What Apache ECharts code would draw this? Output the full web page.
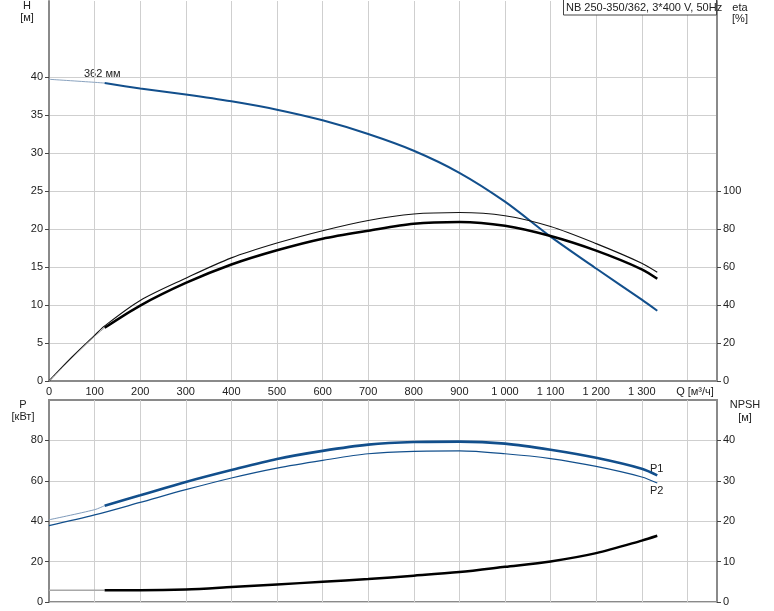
<!DOCTYPE html>
<html><head><meta charset="utf-8">
<script src="https://cdn.jsdelivr.net/npm/echarts@6/dist/echarts.min.js"></script>
<style>html,body{margin:0;padding:0;background:#fff}#c{width:774px;height:611px}</style>
</head><body><div id="c"></div>
<script>
// ---- data ----
const xTicks = [0,100,200,300,400,500,600,700,800,900,1000,1100,1200,1300];
const hTicks = [0,5,10,15,20,25,30,35,40];
const etaTicks = [0,20,40,60,80,100];
const pTicks = [0,20,40,60,80];
const npshTicks = [0,10,20,30,40];

// H curve (m)
const hQstart = [0,100,122];
const hStart  = [39.7,39.3,39.2];
const hQ  = [122,200,300,400,500,600,700,800,900,1000,1100,1200,1300,1334];
const hVal= [39.2,38.5,37.7,36.8,35.7,34.3,32.5,30.3,27.4,23.6,19.0,14.8,10.7,9.24];

// eta thin (%) full range
const eta1Q = [0,50,100,122,200,300,400,500,600,700,800,900,1000,1100,1200,1300,1334];
const eta1  = [0,12.5,24,29,42.4,54.1,64.8,72.6,79.1,84.5,87.9,88.7,87.0,81.3,72.3,62.0,57.2];
// eta thick (%)
const eta2Qstart = [0,50,100,122];
const eta2Start  = [0,12,23.5,28];
const eta2Q = [122,200,300,400,500,600,700,800,900,1000,1100,1200,1300,1334];
const eta2  = [28.0,39.7,51.6,61.3,68.8,74.9,79.1,82.8,83.7,81.7,76.3,68.6,58.8,53.8];

// P1 (kW)
const p1Qstart = [0,100,122];
const p1Start  = [40.7,45.7,47.7];
const p1Q = [122,200,300,400,500,600,700,800,900,1000,1100,1200,1300,1334];
const p1  = [47.7,52.8,59.4,65.3,70.8,74.8,77.9,79.2,79.4,78.4,75.4,71.4,66.0,62.7];
// P2 (kW)
const p2Q = [0,100,200,300,400,500,600,700,800,900,1000,1100,1200,1300,1334];
const p2  = [37.8,43.1,49.3,55.6,61.4,66.3,70.1,73.4,74.6,74.8,73.4,71.0,67.1,61.9,58.9];

// NPSH (m)
const nQstart = [0,122];
const nStart  = [2.9,2.9];
const nQ = [122,200,300,400,500,600,700,800,900,1000,1100,1200,1300,1334];
const nV = [2.9,2.9,3.1,3.7,4.35,5.0,5.7,6.5,7.4,8.7,10.05,12.1,15.2,16.4];

// ---- chart ----
const zip = (a,b) => a.map((q,i)=>[q,b[i]]);
const FONT = 'Liberation Sans';
const TXT = '#222';
const BLUE = '#124f8c';
const GRIDC = '#cfcfcf';
const AXC = '#8a8a8a';

function fmtQ(v){ return v>=1000 ? Math.floor(v/1000)+' '+String(v%1000).padStart(3,'0') : String(v); }

const chart = echarts.init(document.getElementById('c'), null, {renderer:'canvas'});

function xAx(gi, showLabel){
  return {type:'value', gridIndex:gi, min:0, max:1465, interval:100,
    axisLine:{show:gi===0, onZero:false, lineStyle:{color:AXC,width:2}},
    axisTick:{show:false},
    axisLabel:{show:showLabel, customValues:xTicks, formatter:fmtQ, color:TXT, fontFamily:FONT, fontSize:11, margin:5},
    splitLine:{show:true, lineStyle:{color:GRIDC,width:1}}};
}
function yAx(gi, pos, max, interval, ticks, split){
  return {type:'value', gridIndex:gi, position:pos, min:0, max:max, interval:interval,
    axisLine:{show:true, lineStyle:{color:AXC,width:2}},
    axisTick:{show:true, length:4, customValues:ticks, lineStyle:{color:'#444'}},
    axisLabel:{customValues:ticks, color:TXT, fontFamily:FONT, fontSize:11, margin:6},
    splitLine:{show:split, lineStyle:{color:GRIDC,width:1}}};
}
function line(name, data, xi, yi, color, width, z){
  return {name, type:'line', xAxisIndex:xi, yAxisIndex:yi, data, showSymbol:false, symbol:'none',
    smooth:0.3, lineStyle:{color, width}, z:z||2, silent:true, animation:false};
}

const txt = (x,y,s,align) => ({type:'text', x, y, style:{text:s, fill:TXT, font:'11px "'+FONT+'"', align:align||'center', verticalAlign:'middle'}});

chart.setOption({
  animation:false,
  backgroundColor:'#fff',
  grid:[
    {left:49, right:57, top:1, height:380, containLabel:false},
    {left:49, right:57, top:400, height:202, show:true, borderColor:AXC, borderWidth:2, containLabel:false}
  ],
  xAxis:[ xAx(0,true), xAx(1,false) ],
  yAxis:[
    yAx(0,'left',50,5,hTicks,true),
    yAx(0,'right',200,20,etaTicks,false),
    yAx(1,'left',100,20,pTicks,true),
    yAx(1,'right',50,10,npshTicks,false)
  ],
  series:[
    line('H0', zip(hQstart,hStart), 0,0, '#8aa3bf', 1),
    line('H', zip(hQ,hVal), 0,0, BLUE, 2),
    line('eta1', zip(eta1Q,eta1), 0,1, '#111', 1.1),
    line('eta2s', zip(eta2Qstart,eta2Start), 0,1, '#9a9a9a', 1),
    line('eta2', zip(eta2Q,eta2), 0,1, '#000', 2.5),
    line('P1s', zip(p1Qstart,p1Start), 1,2, '#7f9bbb', 1),
    line('P1', zip(p1Q,p1), 1,2, BLUE, 2.6),
    line('P2', zip(p2Q,p2), 1,2, BLUE, 1.2),
    line('NPSHs', zip(nQstart,nStart), 1,3, '#a8a8a8', 1.5),
    line('NPSH', zip(nQ,nV), 1,3, '#000', 2.5)
  ],
  graphic:[
    txt(27,6,'H'), txt(27,18,'[м]'),
    txt(740,8,'eta'), txt(740,19,'[%]'),
    txt(23,405,'P'), txt(23,417,'[кВт]'),
    txt(745,405,'NPSH'), txt(745,418,'[м]'),
    txt(695,392,'Q [м³/ч]'),
    txt(84,74,'362 мм','left'),
    txt(650,469,'P1','left'), txt(650,491,'P2','left'),
    {type:'rect', shape:{x:563.5,y:-1,width:153,height:16}, style:{fill:'#fff', stroke:'#444', lineWidth:1}, z:10},
    {type:'text', x:566, y:8, z:11, style:{text:'NB 250-350/362, 3*400 V, 50Hz', fill:TXT, font:'11px "'+FONT+'"', align:'left', verticalAlign:'middle'}}
  ]
});
</script>
</body></html>
